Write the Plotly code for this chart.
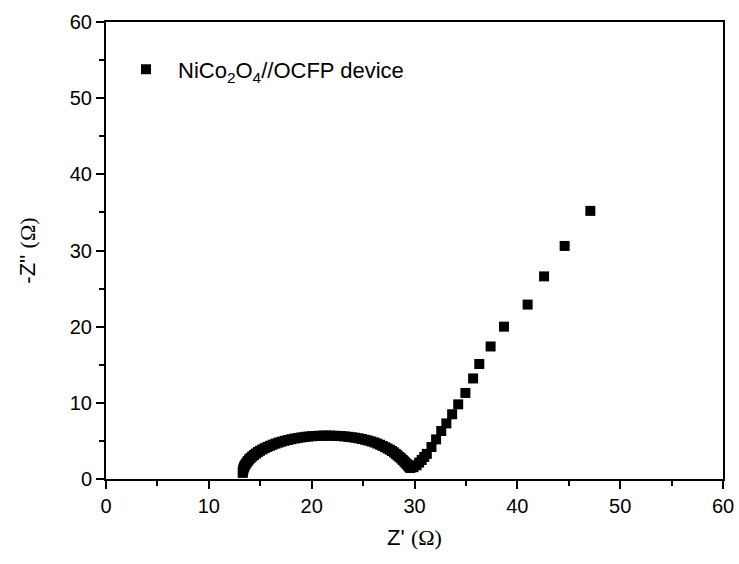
import plotly.graph_objects as go

# Nyquist data (Z' , -Z'')
arc_x = [13.30, 13.31, 13.33, 13.37, 13.42, 13.49, 13.58, 13.68, 13.79, 13.92, 14.06, 14.22,
         14.39, 14.57, 14.77, 14.98, 15.21, 15.44, 15.69, 15.95, 16.21, 16.49, 16.78, 17.07,
         17.38, 17.69, 18.01, 18.33, 18.66, 19.00, 19.34, 19.69, 20.04, 20.39, 20.74, 21.10,
         21.45, 21.80, 22.16, 22.51, 22.87, 23.21, 23.56, 23.90, 24.24, 24.57, 24.89, 25.20,
         25.50, 25.80, 26.10, 26.38, 26.65, 26.90, 27.15, 27.38, 27.60, 27.80, 28.00, 28.18,
         28.35, 28.53, 28.70, 28.85, 29.00, 29.13, 29.25, 29.35, 29.45, 29.53, 29.60]
arc_y = [0.80, 0.98, 1.15, 1.35, 1.55, 1.75, 1.95, 2.16, 2.36, 2.57, 2.77, 2.96,
         3.15, 3.34, 3.53, 3.71, 3.88, 4.05, 4.21, 4.36, 4.51, 4.65, 4.78, 4.90,
         5.02, 5.12, 5.22, 5.31, 5.39, 5.46, 5.53, 5.58, 5.62, 5.65, 5.68, 5.69,
         5.70, 5.69, 5.68, 5.66, 5.63, 5.59, 5.54, 5.48, 5.42, 5.34, 5.25, 5.15,
         5.05, 4.93, 4.80, 4.65, 4.50, 4.34, 4.17, 4.01, 3.85, 3.68, 3.50, 3.30,
         3.10, 2.90, 2.70, 2.50, 2.30, 2.12, 1.95, 1.80, 1.65, 1.55, 1.45]
tail_x = [29.90, 30.20, 30.45, 30.70, 30.95, 31.20, 31.65, 32.10, 32.60, 33.10, 33.66,
          34.25, 34.95, 35.70, 36.30, 37.40, 38.70, 41.00, 42.60, 44.60, 47.10]
tail_y = [1.55, 1.80, 2.15, 2.50, 2.90, 3.30, 4.20, 5.20, 6.30, 7.30, 8.50,
          9.80, 11.30, 13.20, 15.10, 17.40, 20.00, 22.90, 26.60, 30.60, 35.20]

z_real = arc_x + tail_x
z_imag = arc_y + tail_y

x_ticks = [0, 10, 20, 30, 40, 50, 60]
y_ticks = [0, 10, 20, 30, 40, 50, 60]

fig = go.Figure()
fig.add_trace(go.Scatter(
    x=z_real, y=z_imag, mode="markers",
    name="NiCo<sub>2</sub>O<sub>4</sub>//OCFP device",
    marker=dict(symbol="square", size=10, color="black", line=dict(width=0)),
))

axis_common = dict(
    showgrid=False, zeroline=False, showline=True, linecolor="black", linewidth=2,
    mirror=True, ticks="outside", ticklen=8, tickwidth=2, tickcolor="black",
    tickfont=dict(family="Liberation Sans, Arial", size=20, color="black"),
    minor=dict(ticks="outside", ticklen=5, tickwidth=2, tickcolor="black", dtick=5),
    range=[0, 60], tickvals=x_ticks, automargin=False,
)

fig.update_xaxes(**axis_common)
fig.update_yaxes(**axis_common)
fig.update_yaxes(tickvals=y_ticks)
fig.update_xaxes(title=dict(
    text="Z' <span style='font-family:Liberation Serif'>(Ω)</span>",
    font=dict(family="Liberation Sans, Arial", size=22, color="black"), standoff=14))
fig.update_yaxes(title=dict(
    text="-Z'' <span style='font-family:Liberation Serif'>(Ω)</span>",
    font=dict(family="Liberation Sans, Arial", size=22, color="black"), standoff=28))

fig.update_layout(
    width=739, height=564,
    margin=dict(l=106, r=16, t=22, b=85),
    paper_bgcolor="white", plot_bgcolor="white",
    showlegend=True,
    legend=dict(x=0.013, y=0.942, xanchor="left", yanchor="top",
                itemwidth=54,
                bgcolor="rgba(0,0,0,0)",
                font=dict(family="Liberation Sans, Arial", size=22, color="black")),
)

fig.write_html(
    "out.html",
    config={"displayModeBar": False},
    post_script="document.body.style.margin='0';document.body.style.overflow='hidden';",
)
